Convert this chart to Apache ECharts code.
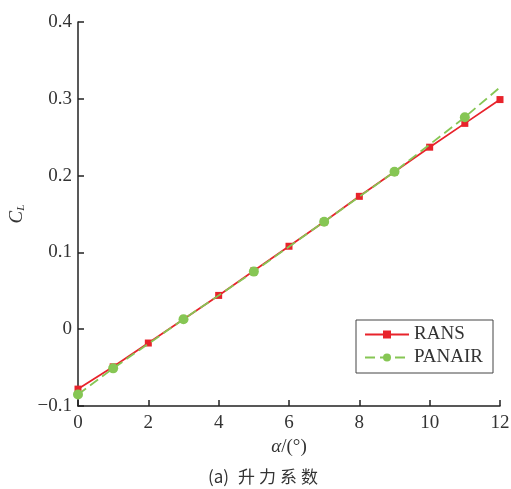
<!DOCTYPE html>
<html>
<head>
<meta charset="utf-8">
<script src="https://cdn.jsdelivr.net/npm/echarts@6/dist/echarts.min.js"></script>
<style>
  html, body { margin: 0; padding: 0; background: #fff; }
  #chart { width: 511px; height: 489px; }
</style>
</head>
<body>
<div id="chart"></div>
<script>
// Lift coefficient vs angle of attack
const alphaRANS = [0, 1, 2, 3, 4, 5, 6, 7, 8, 9, 10, 11, 12];
const clRANS = [-0.078, -0.049, -0.018, 0.013, 0.044, 0.076, 0.108, 0.140, 0.173, 0.205, 0.237, 0.268, 0.299];

const alphaPANAIR = [0, 1, 3, 5, 7, 9, 11, 12];
const clPANAIR = [-0.085, -0.051, 0.013, 0.075, 0.140, 0.205, 0.276, 0.315];

const xTicks = [0, 2, 4, 6, 8, 10, 12];
const yTicks = [-0.1, 0, 0.1, 0.2, 0.3, 0.4];

const serif = '"Liberation Serif", "DejaVu Serif", serif';
const cjk = '"Noto Sans CJK SC", sans-serif';
const red = '#e8232b';
const green = '#86c654';

const chart = echarts.init(document.getElementById('chart'), null, { renderer: 'canvas' });

const fmtY = v => {
  const r = Math.round(v * 10) / 10;
  if (r === 0) return '0';
  return (r < 0 ? '\u2212' : '') + Math.abs(r).toFixed(1);
};

chart.setOption({
  animation: false,
  backgroundColor: '#fff',
  grid: { left: 78, right: 11, top: 22, bottom: 83, containLabel: false, outerBoundsMode: 'none' },
  xAxis: {
    type: 'value',
    min: xTicks[0], max: xTicks[xTicks.length - 1], interval: 2,
    name: '{i|\u03b1}{n|/(\u00b0)}',
    nameLocation: 'middle',
    nameGap: 27,
    nameTextStyle: {
      rich: {
        i: { fontFamily: serif, fontStyle: 'italic', fontSize: 19, color: '#333' },
        n: { fontFamily: serif, fontSize: 19, color: '#333' }
      }
    },
    axisLine: { onZero: false, lineStyle: { color: '#222', width: 1.5 } },
    axisTick: { inside: true, length: 6, lineStyle: { color: '#222', width: 1.5 } },
    axisLabel: { fontFamily: serif, fontSize: 19, color: '#333', margin: 8 },
    splitLine: { show: false }
  },
  yAxis: {
    type: 'value',
    min: yTicks[0], max: yTicks[yTicks.length - 1], interval: 0.1,
    name: '{c|C}{s|L}',
    nameLocation: 'middle',
    nameRotate: 90,
    nameGap: 51,
    nameTextStyle: {
      rich: {
        c: { fontFamily: serif, fontStyle: 'italic', fontSize: 19, color: '#333' },
        s: { fontFamily: serif, fontStyle: 'italic', fontSize: 11, color: '#333', verticalAlign: 'bottom', padding: [9, 0, 0, 0] }
      }
    },
    axisLine: { show: true, onZero: false, lineStyle: { color: '#222', width: 1.5 } },
    axisTick: { show: true, inside: true, length: 6, lineStyle: { color: '#222', width: 1.5 } },
    axisLabel: { fontFamily: serif, fontSize: 19, color: '#333', margin: 6, formatter: fmtY },
    splitLine: { show: false }
  },
  legend: {
    right: 18, top: 320,
    orient: 'vertical',
    backgroundColor: '#fff',
    borderColor: '#444', borderWidth: 1, borderRadius: 0,
    padding: [5, 10, 6, 8],
    itemGap: 4,
    itemWidth: 44, itemHeight: 10,
    textStyle: { fontFamily: serif, fontSize: 19, color: '#333' },
    data: ['RANS', 'PANAIR']
  },
  title: {
    text: '{p|(a)} {c|升}{c|力}{c|系}{c|数}',
    left: 208, top: 468,
    padding: 0,
    textStyle: {
      fontWeight: 'normal',
      rich: {
        p: { fontFamily: cjk, fontSize: 17, fontWeight: 'normal', color: '#333', padding: [0, 2, 0, 0] },
        c: { fontFamily: cjk, fontSize: 17, fontWeight: 'normal', color: '#333', padding: [0, 2, 0, 2] }
      }
    }
  },
  series: [
    {
      name: 'RANS',
      type: 'line',
      data: alphaRANS.map((a, i) => [a, clRANS[i]]),
      symbol: 'rect', symbolSize: 7,
      showAllSymbol: true,
      itemStyle: { color: red },
      lineStyle: { color: red, width: 1.8 },
      z: 2
    },
    {
      name: 'PANAIR',
      type: 'line',
      data: alphaPANAIR.map((a, i) => (a === 12 ? { value: [a, clPANAIR[i]], symbol: 'none' } : [a, clPANAIR[i]])),
      symbol: 'circle', symbolSize: 10,
      showAllSymbol: true,
      itemStyle: { color: green },
      lineStyle: { color: green, width: 1.8, type: [10, 5] },
      z: 3
    }
  ]
});
</script>
</body>
</html>
